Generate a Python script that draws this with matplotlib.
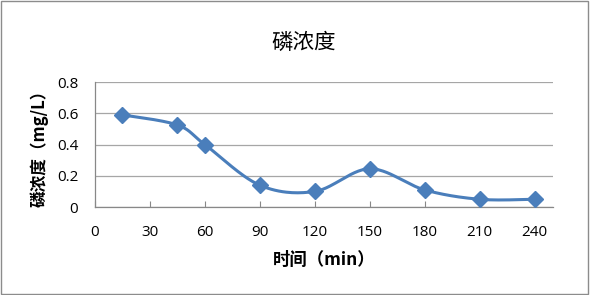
import matplotlib
matplotlib.use("Agg")
import matplotlib.pyplot as plt
import numpy as np
from matplotlib.patches import Rectangle

plt.rcParams['font.family'] = ['Noto Sans CJK SC', 'DejaVu Sans']

# data
time_min = [15, 45, 60, 90, 120, 150, 180, 210, 240]
phosphorus = [0.59, 0.525, 0.40, 0.14, 0.10, 0.245, 0.11, 0.05, 0.05]
x_ticks = [0, 30, 60, 90, 120, 150, 180, 210, 240]
y_ticks = [0, 0.2, 0.4, 0.6, 0.8]
y_tick_labels = ["0", "0.2", "0.4", "0.6", "0.8"]

BLUE = "#4a7ebb"
TICK_FONT = ["Open Sans", "DejaVu Sans"]


def smooth_curve(xs, ys, n=30):
    """Catmull-Rom style smoothing, like Excel's smoothed line."""
    xs = np.asarray(xs, float)
    ys = np.asarray(ys, float)
    px = np.concatenate([[xs[0]], xs, [xs[-1]]])
    py = np.concatenate([[ys[0]], ys, [ys[-1]]])
    out_x, out_y = [], []
    for i in range(1, len(px) - 2):
        p0, p1, p2, p3 = (np.array([px[j], py[j]]) for j in (i - 1, i, i + 1, i + 2))
        c1 = p1 + (p2 - p0) / 6
        c2 = p2 - (p3 - p1) / 6
        t = np.linspace(0, 1, n)[:, None]
        pts = ((1 - t) ** 3 * p1 + 3 * (1 - t) ** 2 * t * c1
               + 3 * (1 - t) * t ** 2 * c2 + t ** 3 * p2)
        out_x.extend(pts[:, 0])
        out_y.extend(pts[:, 1])
    return np.array(out_x), np.array(out_y)


fig = plt.figure(figsize=(5.9, 2.95), dpi=100)
ax = fig.add_axes([0.161, 0.298, 0.776, 0.424])

sx, sy = smooth_curve(time_min, phosphorus)
ax.plot(sx, sy, color=BLUE, linewidth=2.2, zorder=3)
ax.plot(time_min, phosphorus, linestyle="none", marker="D", markersize=8,
        color=BLUE, zorder=4)

ax.set_xlim(0, 250)
ax.set_ylim(0, 0.8)
ax.set_xticks(x_ticks)
ax.set_xticklabels([str(v) for v in x_ticks], fontsize=11, family=TICK_FONT)
ax.set_yticks(y_ticks)
ax.set_yticklabels(y_tick_labels, fontsize=11, family=TICK_FONT)
ax.tick_params(axis="x", direction="in", length=4, color="#888888", pad=13)
ax.tick_params(axis="y", length=0, pad=12)
ax.grid(axis="y", color="#a6a6a6", linewidth=0.9)
ax.set_axisbelow(True)
for side in ("top", "right"):
    ax.spines[side].set_visible(False)
for side in ("left", "bottom"):
    ax.spines[side].set_color("#888888")
    ax.spines[side].set_linewidth(0.9)

fig.text(0.515, 0.854, "磷浓度", fontsize=15.5, ha="center", va="center")
ax.set_xlabel("时间（min）", fontsize=12.5, fontweight="bold", labelpad=8)
ax.set_ylabel("磷浓度（mg/L）", fontsize=12, fontweight="bold", labelpad=6)

fig.patches.append(Rectangle((0.002, 0.003), 0.995, 0.993, transform=fig.transFigure,
                             fill=False, edgecolor="#8c8c8c", linewidth=1.0))

fig.savefig("out.png", dpi=100)
